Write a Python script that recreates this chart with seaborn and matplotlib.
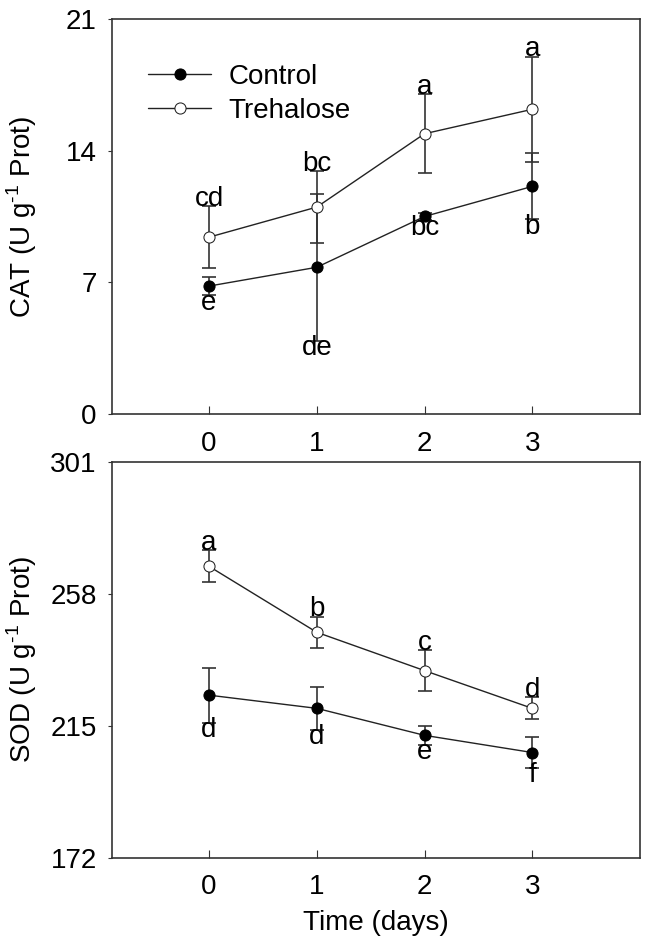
import matplotlib
matplotlib.use("Agg")
import matplotlib.pyplot as plt
import pandas as pd
import seaborn as sns

days = [0, 1, 2, 3]

# CAT (U g-1 Prot)
cat_control = [6.8, 7.8, 10.5, 12.1]
cat_control_err = [0.5, 3.9, 0.2, 1.75]
cat_treh = [9.4, 11.0, 14.9, 16.2]
cat_treh_err = [1.65, 1.9, 2.1, 2.8]
cat_control_lab = ['e', 'de', 'bc', 'b']
cat_treh_lab = ['cd', 'bc', 'a', 'a']

# SOD (U g-1 Prot)
sod_control = [225.0, 220.7, 211.9, 206.3]
sod_control_err = [9.0, 7.0, 3.0, 4.9]
sod_treh = [267.0, 245.5, 233.0, 220.7]
sod_treh_err = [5.2, 5.0, 6.7, 3.6]
sod_control_lab = ['d', 'd', 'e', 'f']
sod_treh_lab = ['a', 'b', 'c', 'd']

sns.set_style("ticks")
plt.rcParams['font.family'] = ['Liberation Sans', 'DejaVu Sans']
plt.rcParams['font.size'] = 20
plt.rcParams['text.color'] = 'black'
plt.rcParams['axes.labelcolor'] = 'black'
plt.rcParams['xtick.color'] = 'black'
plt.rcParams['ytick.color'] = 'black'
plt.rcParams['mathtext.fontset'] = 'custom'
plt.rcParams['mathtext.rm'] = 'Liberation Sans'

fig = plt.figure(figsize=(6.57, 9.46), dpi=100)
ax1 = fig.add_axes([0.1705, 0.5624, 0.8037, 0.4175])
ax2 = fig.add_axes([0.1705, 0.0933, 0.8037, 0.4183])

def panel(ax, ctrl, cerr, treh, terr, clab, tlab, ylim, yticks, ylabel, off):
    df = pd.DataFrame({'day': days + days,
                       'val': ctrl + treh,
                       'group': ['Control'] * 4 + ['Trehalose'] * 4})
    ax.errorbar(days, ctrl, yerr=cerr, fmt='none', ecolor='#333333',
                elinewidth=1.2, capsize=5, capthick=1.2, zorder=2)
    ax.errorbar(days, treh, yerr=terr, fmt='none', ecolor='#333333',
                elinewidth=1.2, capsize=5, capthick=1.2, zorder=2)
    sns.lineplot(data=df[df.group == 'Control'], x='day', y='val', ax=ax,
                 color='#222222', lw=1, marker='o', markersize=8,
                 markerfacecolor='black', markeredgecolor='black',
                 label='Control', zorder=3)
    sns.lineplot(data=df[df.group == 'Trehalose'], x='day', y='val', ax=ax,
                 color='#222222', lw=1, marker='o', markersize=8,
                 markerfacecolor='white', markeredgecolor='#222222',
                 label='Trehalose', zorder=3)
    for d, v, e, t in zip(days, treh, terr, tlab):
        ax.text(d, v + e - off, t, ha='center', va='bottom', fontsize=20)
    for d, v, e, t in zip(days, ctrl, cerr, clab):
        ax.text(d, v - e + off, t, ha='center', va='top', fontsize=20)
    ax.set_xlim(-0.9, 4.0)
    ax.set_ylim(*ylim)
    ax.set_yticks(yticks)
    ax.set_xticks(days)
    ax.set_ylabel(ylabel)
    ax.set_xlabel('')
    ax.tick_params(axis='x', direction='in', length=6, pad=12, color='#333333')
    ax.tick_params(axis='y', direction='out', length=3, pad=8, color='#333333')
    for s in ax.spines.values():
        s.set_visible(True)
        s.set_color('#333333')
        s.set_linewidth(1.2)
    ax.yaxis.set_label_coords(-0.138, 0.5)

panel(ax1, cat_control, cat_control_err, cat_treh, cat_treh_err,
      cat_control_lab, cat_treh_lab, (0, 21), [0, 7, 14, 21],
      'CAT (U g$^{\\text{-1}}$ Prot)', 0.3)
panel(ax2, sod_control, sod_control_err, sod_treh, sod_treh_err,
      sod_control_lab, sod_treh_lab, (172, 301), [172, 215, 258, 301],
      'SOD (U g$^{\\text{-1}}$ Prot)', 1.8)

ax1.legend(loc='upper left', frameon=False, fontsize=20, handlelength=2.3,
           handletextpad=0.6, labelspacing=0.3, bbox_to_anchor=(0.02, 0.95))
ax2.get_legend().remove()
ax2.set_xlabel('Time (days)', labelpad=7)

fig.savefig('out.png', dpi=100, facecolor='white')
